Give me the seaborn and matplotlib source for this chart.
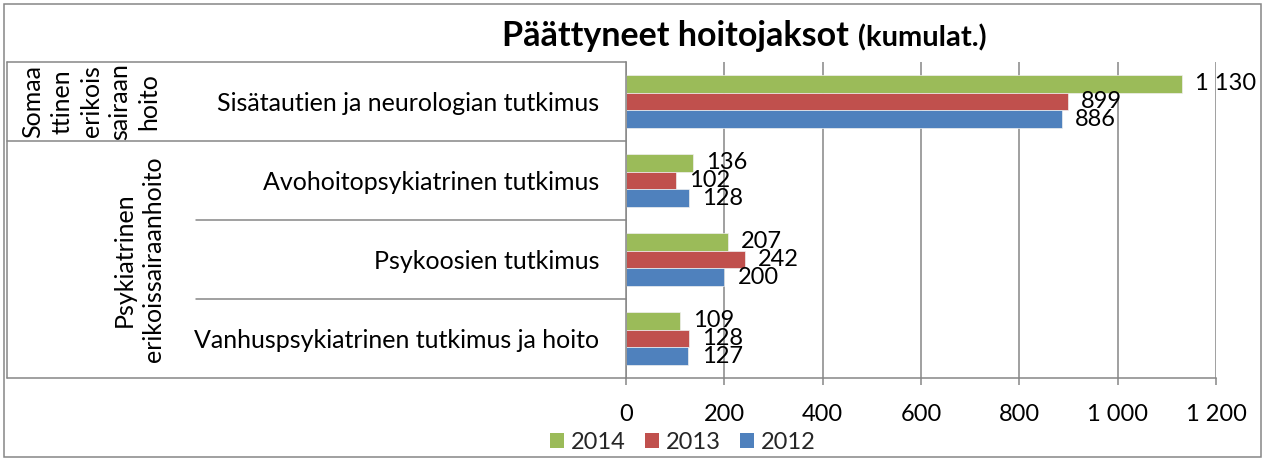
import matplotlib
matplotlib.use("Agg")
import matplotlib.pyplot as plt
import seaborn as sns
import pandas as pd
from matplotlib.patches import Patch, Rectangle
from matplotlib.lines import Line2D
from matplotlib import transforms

# --- data -------------------------------------------------------------
categories = [
    "Sisätautien ja neurologian tutkimus",
    "Avohoitopsykiatrinen tutkimus",
    "Psykoosien tutkimus",
    "Vanhuspsykiatrinen tutkimus ja hoito",
]
group_labels = ["Somaa\nttinen\nerikois\nsairaan\nhoito", "Psykiatrinen\nerikoissairaanhoito"]
group_centers = [0, 2]          # category index at the middle of each group
years = ["2014", "2013", "2012"]
v2014 = [1130, 136, 207, 109]
v2013 = [899, 102, 242, 128]
v2012 = [886, 128, 200, 127]
year_colors = ["#9BBB59", "#C0504D", "#4F81BD"]
xticks = [0, 200, 400, 600, 800, 1000, 1200]


def fi(v):
    """Finnish number format: space as thousands separator."""
    return f"{int(v):,}".replace(",", " ")


df = pd.DataFrame({
    "Kategoria": categories * 3,
    "Vuosi": [y for y in years for _ in categories],
    "Määrä": v2014 + v2013 + v2012,
})

# --- style ------------------------------------------------------------
sns.set_theme(style="white")
plt.rcParams["font.family"] = ["Lato", "DejaVu Sans"]
GRAY = "#868686"
FS = 17
FS_CAT = 18

W, H = 1265, 461
fig = plt.figure(figsize=(W / 100, H / 100), dpi=100)
ax = fig.add_axes([626 / W, 1 - 378 / H, (1216 - 626) / W, (378 - 62) / H])

sns.barplot(
    data=df, y="Kategoria", x="Määrä", hue="Vuosi",
    order=categories, hue_order=years,
    palette=dict(zip(years, year_colors)), saturation=1,
    orient="h", width=2 / 3, legend=False, ax=ax,
    edgecolor="#f0f0f0", linewidth=0.5,
)

for cont in ax.containers:
    ax.bar_label(cont, labels=[fi(v) for v in cont.datavalues],
                 padding=9.5, fontsize=FS, color="black")

ax.set_xlim(0, 1200)
ax.set_ylim(3.5, -0.5)
ax.set_xticks(xticks)
ax.set_xticklabels([fi(v) for v in xticks])
ax.set_xlabel("")
ax.set_ylabel("")
ax.grid(axis="x", color=GRAY, lw=1.1)
ax.grid(axis="y", visible=False)
ax.set_axisbelow(True)
for s in ["top", "right"]:
    ax.spines[s].set_visible(False)
for s in ["left", "bottom"]:
    ax.spines[s].set_color(GRAY)
    ax.spines[s].set_linewidth(1.1)
ax.tick_params(axis="x", length=5, width=1.1, color=GRAY, labelsize=FS,
               pad=14, bottom=True, labelcolor="black")
ax.tick_params(axis="y", length=0, pad=19, labelsize=FS_CAT, labelcolor="black")

# --- multi-level category table on the left -----------------------------
trans = transforms.blended_transform_factory(fig.transFigure, ax.transData)


def hline(y, x0, x1):
    fig.add_artist(Line2D([x0 / W, x1 / W], [y, y], transform=trans,
                          color=GRAY, lw=1.1, clip_on=False))


hline(-0.5, 7, 626)
hline(0.5, 7, 626)
hline(1.5, 196, 626)
hline(2.5, 196, 626)
hline(3.5, 7, 626)
fig.add_artist(Line2D([7 / W, 7 / W], [-0.5, 3.5], transform=trans,
                      color=GRAY, lw=1.1, clip_on=False))

for lbl, cy, px in zip(group_labels, group_centers, [91, 139]):
    fig.text(px / W, cy, lbl, transform=trans, rotation=90,
             ha="center", va="center", multialignment="center",
             fontsize=FS_CAT, linespacing=1.32, color="black")

# --- title --------------------------------------------------------------
t1 = fig.text(502 / W, 1 - 46 / H, "Päättyneet hoitojaksot",
              fontsize=24.5, fontweight="bold", va="baseline", color="black")
fig.canvas.draw()
bb = t1.get_window_extent()
fig.text((bb.x1 + 9) / W, 1 - 46 / H, "(kumulat.)",
         fontsize=21, fontweight="bold", va="baseline", color="black")

# --- legend ---------------------------------------------------------------
handles = [Patch(facecolor=c, edgecolor="none", label=y)
           for y, c in zip(years, year_colors)]
fig.legend(handles=handles, loc="center", bbox_to_anchor=(683 / W, 1 - 442 / H),
           ncol=3, frameon=False, fontsize=FS, handlelength=0.6,
           handleheight=0.6, handletextpad=0.3, columnspacing=0.8,
           borderaxespad=0, borderpad=0)

# --- outer chart frame ----------------------------------------------------
fig.add_artist(Rectangle((4 / W, 4 / H), (1261 - 4) / W, (457 - 4) / H,
                         transform=fig.transFigure, fill=False,
                         edgecolor=GRAY, lw=1.1))

fig.savefig("out.png", dpi=100)
